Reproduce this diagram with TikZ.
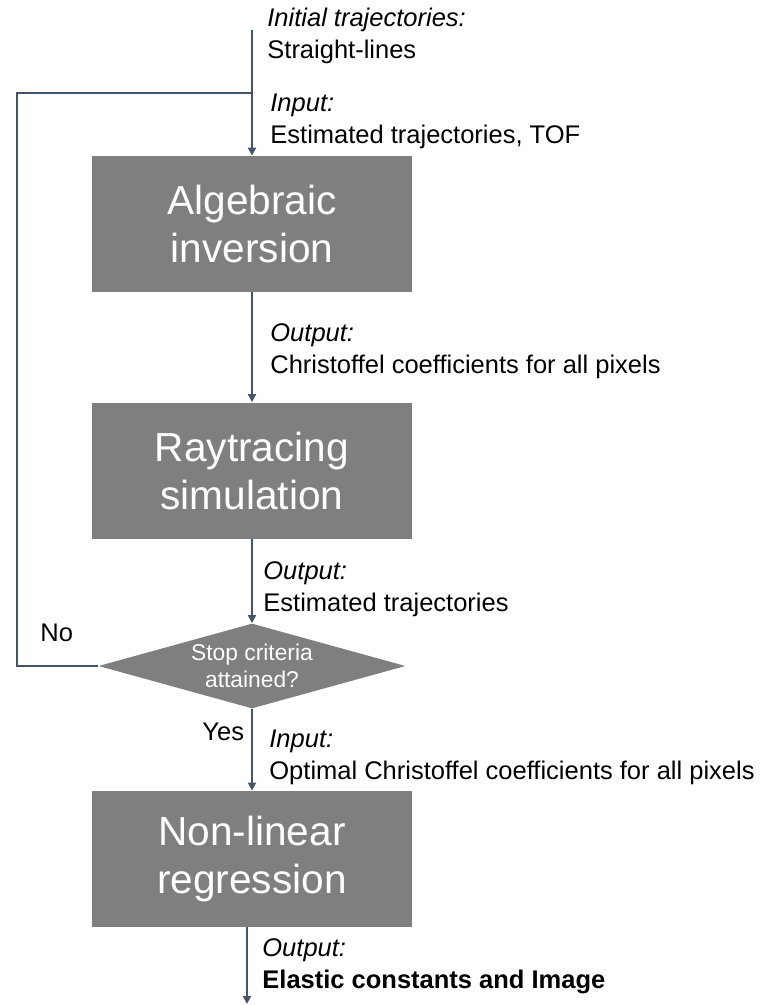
\documentclass[tikz,border=0pt]{standalone}
\usepackage{fontspec}
\setmainfont{Liberation Sans}
\usetikzlibrary{arrows.meta,shapes.geometric}

\definecolor{flowline}{RGB}{68,84,106}
\definecolor{boxgray}{RGB}{127,127,127}

\tikzset{
  box/.style={rectangle,fill=boxgray,text=white,minimum width=160pt,minimum height=68pt,
    align=center,inner sep=0pt,font=\fontsize{20.3}{24}\selectfont},
  test/.style={diamond,fill=boxgray,text=white,minimum width=153.5pt,minimum height=42.5pt,
    shape aspect=3.6,inner sep=0pt,align=center,font=\fontsize{11.4}{13.5}\selectfont},
  note/.style={anchor=west,align=left,inner sep=0pt,font=\fontsize{12.75}{16}\selectfont},
  flow/.style={draw=flowline,line width=1pt}
}

\begin{document}
\begin{tikzpicture}[x=0.5pt,y=-0.5pt,>={Triangle[length=4pt,width=4pt]}]

\useasboundingbox (0,0) rectangle (760,1005);

% Process boxes and the test
\node[box] (alg) at (252,224) {Algebraic\\inversion};
\node[box] (ray) at (252,470.5) {Raytracing\\simulation};
\node[test] (stop) at (252,666) {Stop criteria\\attained?};
\node[box] (nlr) at (252,859) {Non-linear\\regression};

% Free ends of the connectors
\coordinate (start) at (252,30);
\coordinate (loop) at (17,93);
\coordinate (finish) at (247,1004);

% Entry line down into the first box
\draw[flow,->] (start) -- (alg.north);

% Feedback loop from the test back to the entry line (no arrowhead)
\draw[flow] (stop.west) -- (stop.west -| loop) -- (loop) -- (loop -| start);

% Main chain
\draw[flow,->] (alg.south) -- (ray.north);
\draw[flow,->] (ray.south) -- (stop.north);
\draw[flow,->] (stop.south) -- (nlr.north);
\draw[flow,->] (nlr.south -| finish) -- (finish);

% Labels beside the connectors
\node[note] (initlbl) at (267,36.4) {\textit{Initial trajectories:}\\Straight-lines};
\node[note] (inlbl) at (270,121) {\textit{Input:}\\Estimated trajectories, TOF};
\node[note] (outlbl) at (270,351) {\textit{Output:}\\Christoffel coefficients for all pixels};
\node[note] (trajlbl) at (263,589.5) {\textit{Output:}\\Estimated trajectories};
\node[note] (optlbl) at (269,757.5) {\textit{Input:}\\Optimal Christoffel coefficients for all pixels};
\node[note] (reslbl) at (262,966) {\textit{Output:}\\\textbf{Elastic constants and Image}};

% Answers of the test
\node[note] (nolbl) at (40,633) {No};
\node[note] (yeslbl) at (202,732) {Yes};

\end{tikzpicture}
\end{document}
